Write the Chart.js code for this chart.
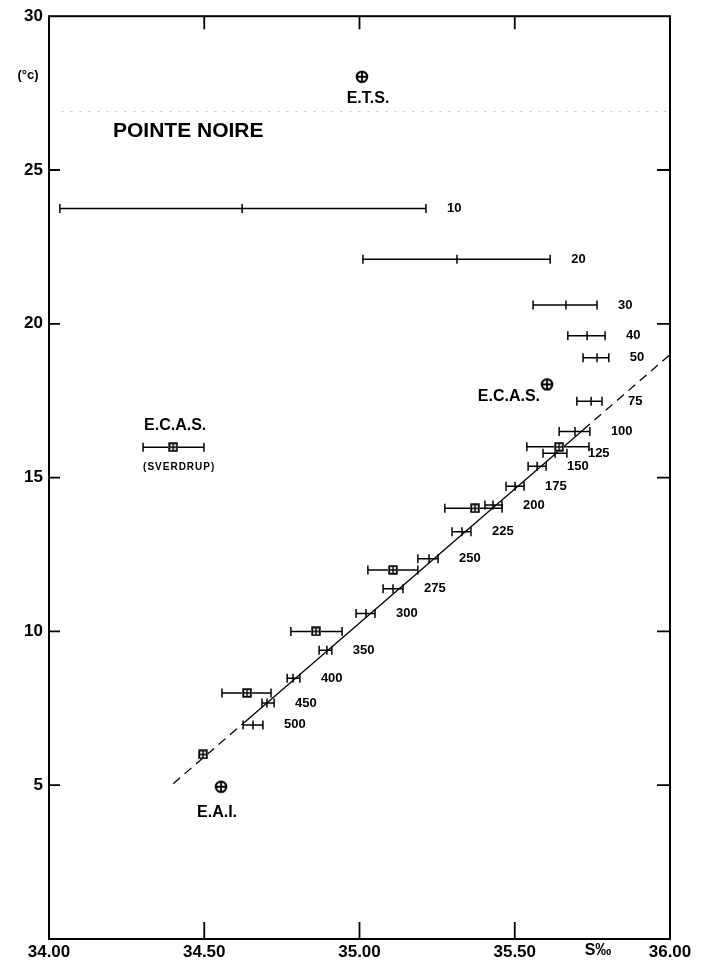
<!DOCTYPE html>
<html>
<head>
<meta charset="utf-8">
<script src="https://cdn.jsdelivr.net/npm/chart.js@4.4.1/dist/chart.umd.min.js"></script>
<style>
    html, body { margin: 0; padding: 0; background: #fff; }
    #wrap { width: 708px; height: 961px; }
</style>
</head>
<body>
<div id="wrap"><canvas id="tsChart"></canvas></div>
<script>
// Profondeurs (m) : température moyenne, salinité min / moyenne / max
const depths    = [10, 20, 30, 40, 50, 75, 100, 125, 150, 175, 200, 225, 250, 275, 300, 350, 400, 450, 500];
const depthT    = [23.75, 22.10, 20.61, 19.61, 18.90, 17.48, 16.50, 15.79, 15.37, 14.72, 14.11, 13.24, 12.36, 11.39, 10.58, 9.39, 8.48, 7.67, 6.96];
const depthSmin = [34.035, 35.011, 35.559, 35.671, 35.720, 35.700, 35.643, 35.591, 35.543, 35.472, 35.404, 35.298, 35.188, 35.076, 34.989, 34.870, 34.767, 34.686, 34.625];
const depthSavg = [34.622, 35.314, 35.665, 35.733, 35.765, 35.746, 35.694, 35.630, 35.572, 35.501, 35.430, 35.330, 35.224, 35.108, 35.021, 34.895, 34.786, 34.702, 34.657];
const depthSmax = [35.214, 35.614, 35.765, 35.791, 35.803, 35.781, 35.742, 35.668, 35.601, 35.530, 35.459, 35.359, 35.253, 35.140, 35.050, 34.911, 34.808, 34.725, 34.689];

// Valeurs aux températures entières (carrés)
const isoT    = [16, 14, 12, 10, 8, 6];
const isoSmin = [35.539, 35.275, 35.027, 34.779, 34.557, 34.496];
const isoSavg = [35.643, 35.372, 35.108, 34.860, 34.638, 34.496];
const isoSmax = [35.739, 35.459, 35.188, 34.944, 34.715, 34.496];

// E.C.A.S. (Sverdrup)
const sverdrupT = 15.99;
const sverdrupS = [34.303, 34.400, 34.499];

// Masses d'eau
const waterNames = ['E.T.S.', 'E.C.A.S.', 'E.A.I.'];
const waterS     = [35.008, 35.604, 34.554];
const waterT     = [28.03, 18.03, 4.95];

// Droite T-S (tirets / trait plein / tirets)
const fitS = [34.40, 34.63, 35.72, 36.00];
const fitT = [5.05, 7.05, 16.55, 19.00];

// Ligne pointillée Pointe Noire
const noireS = [34.04, 36.00];
const noireT = [26.9, 26.9];

// Axes
const xTicks = [34.0, 34.5, 35.0, 35.5, 36.0];
const yTicks = [5, 10, 15, 20, 25, 30];

const FONT = "'Liberation Sans', Arial, sans-serif";

function makeCirclePlus() {
    const c = document.createElement('canvas');
    c.width = 14; c.height = 14;
    const g = c.getContext('2d');
    g.strokeStyle = '#000';
    g.lineWidth = 2.2;
    g.beginPath(); g.arc(7, 7, 5.2, 0, Math.PI * 2); g.stroke();
    g.lineWidth = 1.8;
    g.beginPath();
    g.moveTo(7, 2); g.lineTo(7, 12);
    g.moveTo(2, 7); g.lineTo(12, 7);
    g.stroke();
    return c;
}

function makeBoxPlus() {
    const c = document.createElement('canvas');
    c.width = 10; c.height = 10;
    const g = c.getContext('2d');
    g.fillStyle = '#fff';
    g.fillRect(0, 0, 10, 10);
    g.strokeStyle = '#000';
    g.lineWidth = 1.8;
    g.strokeRect(1.2, 1.2, 7.6, 7.6);
    g.lineWidth = 1.4;
    g.beginPath();
    g.moveTo(5, 1); g.lineTo(5, 9);
    g.moveTo(1, 5); g.lineTo(9, 5);
    g.stroke();
    return c;
}

const circlePlus = makeCirclePlus();
const boxPlus = makeBoxPlus();

function errBar(points, width) {
    return {
        data: points,
        showLine: true,
        borderColor: '#000',
        borderWidth: width,
        pointStyle: 'line',
        rotation: 90,
        pointRadius: 4.5,
        pointBorderWidth: width,
        pointBorderColor: '#000',
        order: 2
    };
}

const datasets = [];

// barres de profondeur
const depthStart = datasets.length;
depths.forEach((d, i) => {
    datasets.push(errBar([
        { x: depthSmin[i], y: depthT[i] },
        { x: depthSavg[i], y: depthT[i] },
        { x: depthSmax[i], y: depthT[i] }
    ], 1.5));
});

// barres des températures entières
isoT.forEach((t, i) => {
    if (isoSmin[i] === isoSmax[i]) return;
    datasets.push(errBar([
        { x: isoSmin[i], y: t },
        { x: isoSmax[i], y: t }
    ], 1.5));
});

// Sverdrup
datasets.push(errBar([
    { x: sverdrupS[0], y: sverdrupT },
    { x: sverdrupS[2], y: sverdrupT }
], 1.5));

// carrés
datasets.push({
    data: isoT.map((t, i) => ({ x: isoSavg[i], y: t })).concat([{ x: sverdrupS[1], y: sverdrupT }]),
    showLine: false,
    pointStyle: boxPlus,
    order: 0
});

// masses d'eau
const waterIndex = datasets.length;
datasets.push({
    data: waterS.map((s, i) => ({ x: s, y: waterT[i] })),
    showLine: false,
    pointStyle: circlePlus,
    order: 0
});

// droite T-S
for (let k = 0; k < fitS.length - 1; k++) {
    datasets.push({
        data: [{ x: fitS[k], y: fitT[k] }, { x: fitS[k + 1], y: fitT[k + 1] }],
        showLine: true,
        borderColor: '#000',
        borderWidth: 1.3,
        borderDash: k === 1 ? [] : [9, 6],
        pointRadius: 0,
        order: 3
    });
}

// Pointe Noire
datasets.push({
    data: noireS.map((s, i) => ({ x: s, y: noireT[i] })),
    showLine: true,
    borderColor: '#c4c4c4',
    borderWidth: 1,
    borderDash: [2, 7],
    pointRadius: 0,
    order: 4
});

// Cadre, graduations intérieures et textes
const framePlugin = {
    id: 'frame',
    afterDraw(chart) {
        const ctx = chart.ctx;
        const a = chart.chartArea;
        const xs = chart.scales.x;
        const ys = chart.scales.y;
        ctx.save();
        ctx.strokeStyle = '#000';
        ctx.lineWidth = 2;
        ctx.strokeRect(a.left, a.top, a.right - a.left, a.bottom - a.top);

        ctx.lineWidth = 1.8;
        ctx.beginPath();
        xTicks.slice(1, -1).forEach(v => {
            const px = xs.getPixelForValue(v);
            ctx.moveTo(px, a.bottom); ctx.lineTo(px, a.bottom - 17);
            ctx.moveTo(px, a.top); ctx.lineTo(px, a.top + 13);
        });
        yTicks.slice(0, -1).forEach(v => {
            const py = ys.getPixelForValue(v);
            ctx.moveTo(a.left, py); ctx.lineTo(a.left + 11, py);
            ctx.moveTo(a.right, py); ctx.lineTo(a.right - 13, py);
        });
        ctx.stroke();

        ctx.fillStyle = '#000';
        ctx.textBaseline = 'middle';

        // étiquettes de profondeur
        ctx.font = 'bold 13px ' + FONT;
        ctx.textAlign = 'left';
        depths.forEach((d, i) => {
            const pts = chart.getDatasetMeta(depthStart + i).data;
            const end = pts[pts.length - 1];
            const gap = d === 75 ? 26 : 21;
            ctx.fillText(String(d), end.x + gap, end.y);
        });

        // masses d'eau
        const wp = chart.getDatasetMeta(waterIndex).data;
        ctx.font = 'bold 16px ' + FONT;
        ctx.textAlign = 'center';
        ctx.fillText(waterNames[0], wp[0].x + 6, wp[0].y + 22);
        ctx.textAlign = 'right';
        ctx.fillText(waterNames[1], wp[1].x - 7, wp[1].y + 12);
        ctx.textAlign = 'center';
        ctx.fillText(waterNames[2], wp[2].x - 4, wp[2].y + 26);

        // Sverdrup
        const sx = xs.getPixelForValue(sverdrupS[1]);
        const sy = ys.getPixelForValue(sverdrupT);
        ctx.fillText('E.C.A.S.', sx + 2, sy - 22);
        ctx.font = 'bold 10px ' + FONT;
        ctx.letterSpacing = '1px';
        ctx.fillText('(SVERDRUP)', sx + 6, sy + 20);
        ctx.letterSpacing = '0px';

        // Pointe Noire
        ctx.font = 'bold 21px ' + FONT;
        ctx.textAlign = 'left';
        ctx.fillText('POINTE NOIRE', 113, ys.getPixelForValue(noireT[0]) + 20);

        // unités
        ctx.font = 'bold 13px ' + FONT;
        ctx.textAlign = 'center';
        ctx.fillText('(°c)', 28, 75);
        ctx.font = 'bold 16px ' + FONT;
        ctx.fillText('S‰', 598, a.bottom + 12);
        ctx.restore();
    }
};

const tsChart = new Chart(document.getElementById('tsChart').getContext('2d'), {
    type: 'scatter',
    data: { datasets: datasets },
    options: {
        responsive: true,
        maintainAspectRatio: false,
        animation: false,
        layout: { padding: { top: 12, right: 38, left: 0, bottom: 0 } },
        plugins: {
            legend: { display: false },
            tooltip: { enabled: false }
        },
        scales: {
            x: {
                type: 'linear',
                min: 34, max: 36,
                afterFit(scale) { scale.height = 22; },
                afterBuildTicks(scale) { scale.ticks = xTicks.map(v => ({ value: v })); },
                grid: { display: false, drawTicks: false },
                border: { display: false },
                ticks: {
                    color: '#000',
                    padding: 3,
                    font: { family: FONT, size: 17, weight: 'bold' },
                    callback: v => v.toFixed(2)
                }
            },
            y: {
                type: 'linear',
                min: 0, max: 30,
                afterFit(scale) { scale.width = 49; },
                afterBuildTicks(scale) { scale.ticks = yTicks.map(v => ({ value: v })); },
                grid: { display: false, drawTicks: false },
                border: { display: false },
                ticks: {
                    color: '#000',
                    padding: 6,
                    font: { family: FONT, size: 17, weight: 'bold' },
                    callback: v => String(v)
                }
            }
        }
    },
    plugins: [framePlugin]
});
</script>
</body>
</html>
